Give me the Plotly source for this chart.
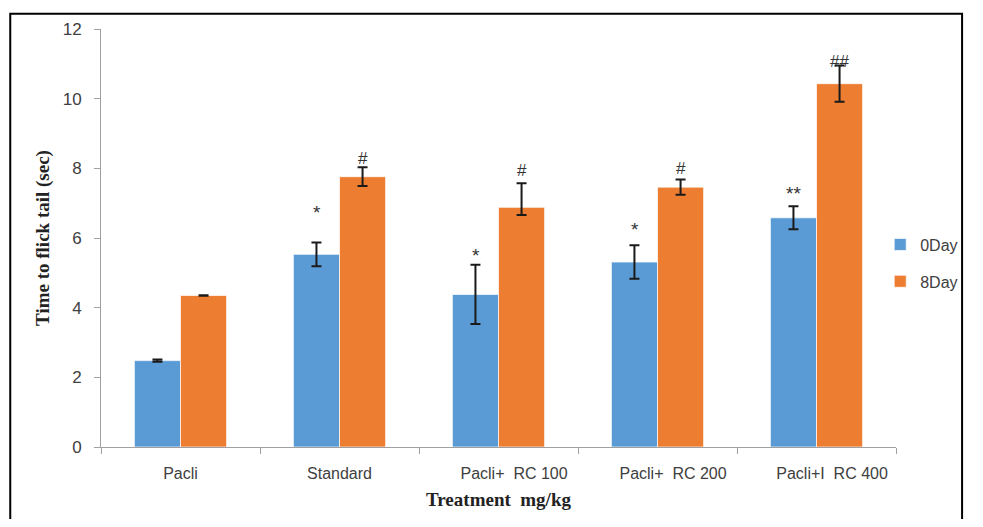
import plotly.graph_objects as go

categories = ["Pacli", "Standard", "Pacli+\u00a0\u00a0RC 100", "Pacli+\u00a0\u00a0RC 200", "Pacli+I\u00a0\u00a0RC 400"]
day0 = [2.48, 5.53, 4.38, 5.31, 6.58]
day0_err = [0.03, 0.34, 0.85, 0.48, 0.33]
day8 = [4.35, 7.76, 6.88, 7.46, 10.43]
day8_err_plus = [0.01, 0.27, 0.69, 0.22, 0.52]
day8_err_minus = [0.01, 0.27, 0.22, 0.22, 0.52]
sig0 = ["", "*", "*", "*", "**"]
sig8 = ["", "#", "#", "#", "##"]
sig0_y = [None, 6.74, 5.50, 6.25, 7.27]
sig8_y = [None, 8.26, 7.90, 7.98, 11.04]

tick_text = ["Pacli", "Standard",
             "\u00a0" * 7 + categories[2],
             "\u00a0" * 7 + categories[3],
             "\u00a0" * 7 + categories[4]]

BLUE = "#5B9BD5"
ORANGE = "#ED7D31"

# figure geometry (page is offset by the 8px body margin)
L, T, PW, PH = 93, 17, 806, 436
W, H = 967, 511

fig = go.Figure()
fig.add_trace(go.Bar(
    x=categories, y=day0, name="0Day", legendgroup="a",
    marker=dict(color=BLUE, line=dict(color="rgba(255,255,255,0.7)", width=1)),
    error_y=dict(type="data", array=day0_err, color="#1a1a1a", thickness=2, width=5),
))
fig.add_trace(go.Bar(
    x=categories, y=day8, name="8Day", legendgroup="b",
    marker=dict(color=ORANGE, line=dict(color="rgba(255,255,255,0.7)", width=1)),
    error_y=dict(type="data", symmetric=False, array=day8_err_plus, arrayminus=day8_err_minus,
                 color="#1a1a1a", thickness=2, width=5),
))

annotations = []
for i, c in enumerate(categories):
    if sig0[i]:
        annotations.append(dict(x=c, y=sig0_y[i], xref="x", yref="y",
                                text=sig0[i], showarrow=False, xshift=-23, yshift=0,
                                yanchor="middle", font=dict(size=19, color="#333", family="Liberation Sans")))
    if sig8[i]:
        annotations.append(dict(x=c, y=sig8_y[i], xref="x", yref="y",
                                text=sig8[i], showarrow=False, xshift=23, yshift=1,
                                yanchor="middle", font=dict(size=17, color="#333", family="Liberation Sans")))

fig.update_layout(
    width=W, height=H,
    margin=dict(l=L, r=W - L - PW, t=T, b=H - T - PH),
    paper_bgcolor="white", plot_bgcolor="white",
    barmode="group", bargap=0.42, bargroupgap=0,
    font=dict(family="Liberation Sans", size=16, color="#404040"),
    legend=dict(x=(883 - L) / PW, y=0.44, xanchor="left", yanchor="middle",
                font=dict(size=16, color="#404040"), tracegroupgap=13,
                bgcolor="rgba(0,0,0,0)"),
    annotations=annotations,
    shapes=[dict(type="rect", xref="paper", yref="paper",
                 x0=(1 - L) / PW, x1=(966 - L) / PW,
                 y0=(T + PH - 560) / PH, y1=(T + PH - 1) / PH,
                 line=dict(color="black", width=2), fillcolor="rgba(0,0,0,0)")],
)
fig.update_xaxes(
    tickmode="array", tickvals=categories, ticktext=tick_text,
    showline=True, linecolor="#a0a0a0", linewidth=1,
    ticks="outside", tickson="boundaries", ticklen=6, tickcolor="#a0a0a0",
    ticklabelstandoff=12,
    showgrid=False, tickfont=dict(size=16, color="#404040"),
    title=dict(text="<b>Treatment  mg/kg</b>", standoff=11,
               font=dict(family="Liberation Serif", size=19, color="#222")),
)
fig.update_yaxes(
    range=[0, 12], dtick=2, showline=True, linecolor="#a0a0a0", linewidth=1,
    ticks="outside", ticklen=6, tickcolor="#a0a0a0", showgrid=False, zeroline=False,
    ticklabelstandoff=9,
    tickfont=dict(size=17, color="#404040"),
    title=dict(text="<b>Time to flick tail (sec)</b>", standoff=8,
               font=dict(family="Liberation Serif", size=19, color="#222")),
)

fig.write_html("out.html")
